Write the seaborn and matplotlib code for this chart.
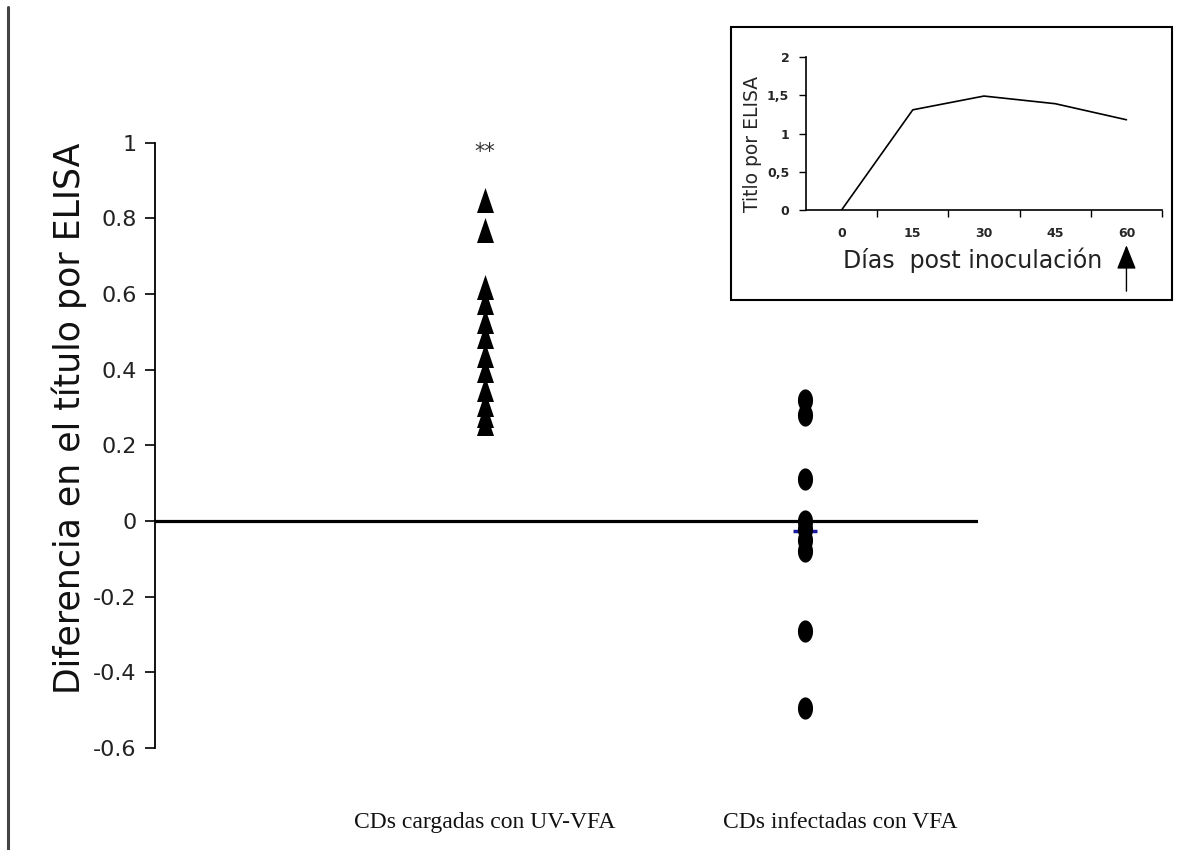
import numpy as np
import pandas as pd
import matplotlib
matplotlib.use("Agg")
import matplotlib.pyplot as plt
from matplotlib.path import Path
from matplotlib.lines import Line2D
from matplotlib.patches import Rectangle
from matplotlib import font_manager
import seaborn as sns

# ---- data ----
groups = ["CDs cargadas con UV-VFA", "CDs infectadas con VFA"]
uv_vfa = [0.85, 0.77, 0.62, 0.58, 0.53, 0.49, 0.44, 0.40, 0.35, 0.31, 0.28, 0.26]
vfa = [0.32, 0.28, 0.11, 0.0, -0.02, -0.05, -0.08, -0.29, -0.495]
yticks = [-0.6, -0.4, -0.2, 0, 0.2, 0.4, 0.6, 0.8, 1]
ytick_labels = ["-0.6", "-0.4", "-0.2", "0", "0.2", "0.4", "0.6", "0.8", "1"]

# inset: ELISA titre after inoculation
days = [0, 15, 30, 45, 60]
titer = [0, 1.31, 1.49, 1.39, 1.18]
inset_yticks = [0, 0.5, 1, 1.5, 2]
inset_ylabels = ["0", "0,5", "1", "1,5", "2"]


def pick(*names):
    for n in names:
        try:
            font_manager.findfont(font_manager.FontProperties(family=n),
                                  fallback_to_default=False)
            return n
        except ValueError:
            pass
    return "DejaVu Sans"


sns.set_style("white")
narrow = pick("Liberation Sans Narrow", "DejaVu Sans")
serif = pick("Liberation Serif", "DejaVu Serif")
plt.rcParams["font.family"] = ["DejaVu Sans"]

# tall markers like in the original
tri = Path([(-0.34, -0.5), (0.34, -0.5), (0, 0.5), (-0.34, -0.5)])
ang = np.linspace(0, 2 * np.pi, 40)
ell = Path(np.column_stack([0.34 * np.cos(ang), 0.5 * np.sin(ang)]))

df = pd.DataFrame({
    "grupo": [groups[0]] * len(uv_vfa) + [groups[1]] * len(vfa),
    "dif": uv_vfa + vfa,
})

fig = plt.figure(figsize=(11.91, 8.5), dpi=100)
ax = fig.add_axes([0.130, 0.12, 0.691, 0.712])

sns.stripplot(data=df[df["grupo"] == groups[0]], x="grupo", y="dif", order=groups,
              jitter=False, marker=tri, size=18, color="black", linewidth=0, ax=ax)
sns.stripplot(data=df[df["grupo"] == groups[1]], x="grupo", y="dif", order=groups,
              jitter=False, marker=ell, size=16, color="black", linewidth=0, ax=ax)
# small blue mean mark behind the circles
ax.plot([1], [np.mean(vfa)], marker="_", ms=17, mew=2.5, color="#1a1aa0", zorder=2)

ax.axhline(0, color="black", lw=2.3, zorder=4)
ax.set_xlim(-1.03, 1.54)
ax.set_ylim(-0.6, 1)
sns.despine(ax=ax, bottom=True)
ax.spines["left"].set_color("black")
ax.spines["left"].set_linewidth(1.3)

ax.set_yticks(yticks, ytick_labels, fontfamily=narrow)
ax.tick_params(axis="y", left=True, length=7, width=1.2, color="black",
               labelsize=16, pad=6, labelcolor="#222222")
ax.set_xticks([0, 1.11], groups, fontfamily=serif)
ax.tick_params(axis="x", length=0, pad=46, labelsize=17, labelcolor="#111111")
ax.set_xlabel("")
ax.set_ylabel("Diferencia en el título por ELISA", fontsize=25, fontfamily=narrow,
              color="#111111")
ax.yaxis.set_label_coords(-0.082, 0.545)
ax.text(0, 0.975, "**", ha="center", va="center", fontsize=15, color="#333333")

# ---- inset ----
ins = fig.add_axes([0.6767, 0.7529, 0.299, 0.180])
sns.lineplot(x=days, y=titer, color="black", lw=1.2, ax=ins)
ins.set_xlim(-7.5, 67.5)
ins.set_ylim(0, 2)
sns.despine(ax=ins)
for s in ["left", "bottom"]:
    ins.spines[s].set_color("black")
    ins.spines[s].set_linewidth(1.2)
ins.set_xticks([d + 7.5 for d in days], [""] * len(days))
ins.set_xticks(days, [str(d) for d in days], minor=True)
ins.tick_params(axis="x", which="major", bottom=True, length=5, width=1, color="black")
ins.tick_params(axis="x", which="minor", bottom=True, length=0, pad=12,
                labelsize=9)
for t in ins.get_xticklabels(minor=True):
    t.set_fontweight("bold")
ins.set_yticks(inset_yticks, inset_ylabels, fontweight="bold")
ins.tick_params(axis="y", left=True, length=5, width=1, color="black", labelsize=9, pad=7)
ins.set_ylabel("Titlo por ELISA", fontsize=13.5)
ins.yaxis.set_label_coords(-0.124, 0.43)
ins.text(0.469, -0.327, "Días  post inoculación", transform=ins.transAxes,
         ha="center", va="center", fontsize=17, color="#222222")
ins.annotate("", xy=(60, -0.23), xytext=(60, -0.53),
             xycoords=("data", "axes fraction"), textcoords=("data", "axes fraction"),
             arrowprops=dict(arrowstyle="-|>,head_length=1.0,head_width=0.4",
                             mutation_scale=15, color="black", lw=1,
                             shrinkA=0, shrinkB=0),
             annotation_clip=False)

fig.add_artist(Rectangle((0.6138, 0.6471), 0.3703, 0.3212, transform=fig.transFigure,
                         fill=False, lw=1.5, ec="black"))
fig.add_artist(Line2D([0.0063, 0.0063], [0, 0.992], transform=fig.transFigure,
                      color="#444444", lw=2.2))

fig.savefig("out.png", dpi=100)
